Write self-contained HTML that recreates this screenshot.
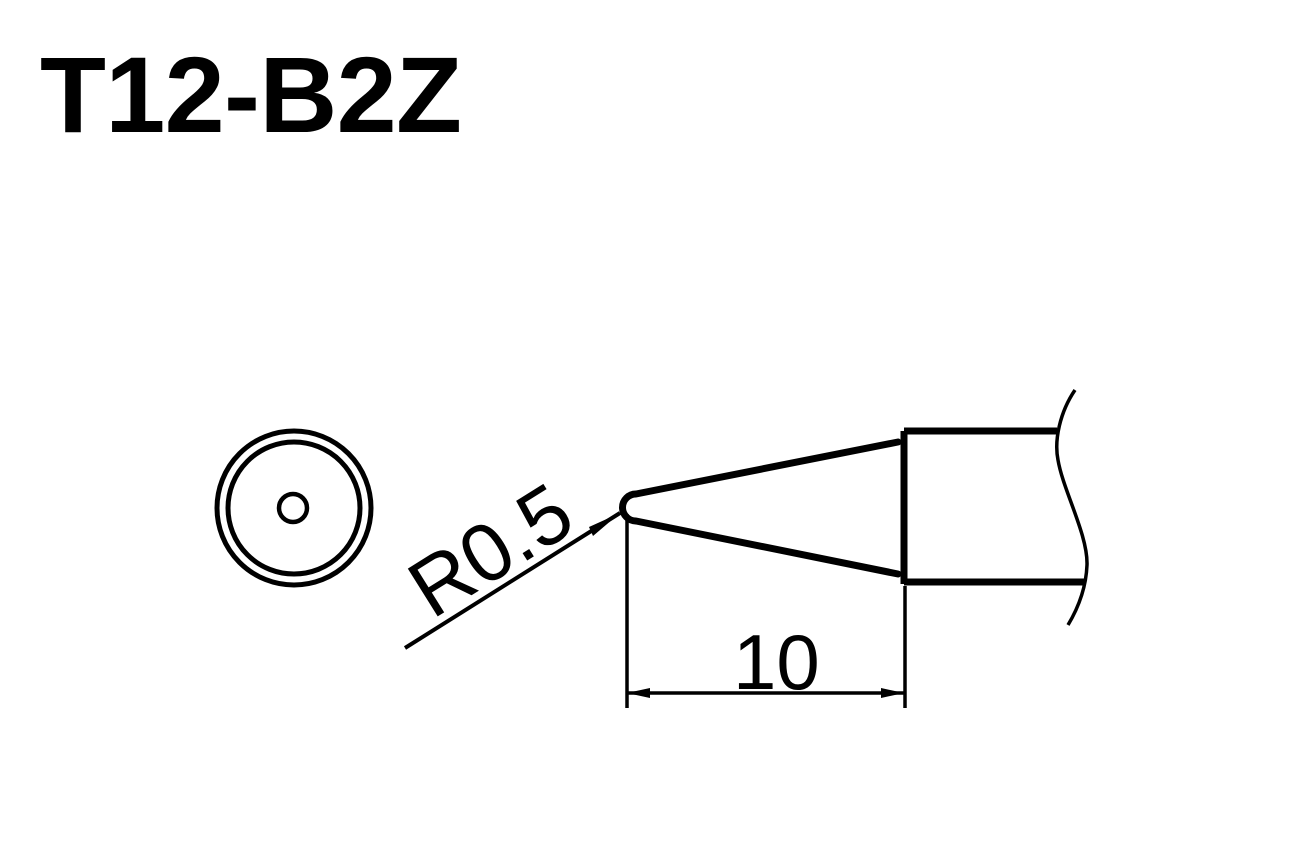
<!DOCTYPE html>
<html><head><meta charset="utf-8"><style>
html,body{margin:0;padding:0;background:#fff;}
svg{display:block}
</style></head><body>
<svg width="1305" height="858" viewBox="0 0 1305 858" xmlns="http://www.w3.org/2000/svg">
<rect width="1305" height="858" fill="#fff"/>
<text x="40" y="132" font-family="Liberation Sans, Arial, sans-serif" font-weight="bold" font-size="108" textLength="422" lengthAdjust="spacing" fill="#000">T12-B2Z</text>
<g fill="none" stroke="#000">
<circle cx="294" cy="508" r="77" stroke-width="5"/>
<circle cx="294" cy="508" r="66" stroke-width="5"/>
<circle cx="293" cy="508" r="14" stroke-width="4.5"/>
<line x1="405" y1="648" x2="620" y2="513" stroke-width="4"/>
<path d="M636,494 L898,442 M636,521 L898,574" stroke-width="7" stroke-linecap="round"/>
<path d="M636,494 A13.5,13.5 0 0 0 636,521" stroke-width="7"/>
<path d="M904,431 L904,584 M904,431 L1057,431 M904,582 L1086,582" stroke-width="7"/>
<path d="M627,514 L627,708 M905,586 L905,708 M627,693 L904,693" stroke-width="3.5"/>
<path d="M1075,390 C1060,412 1054,440 1058,460 C1063,490 1088,535 1087,565 C1086,590 1077,610 1068,625" stroke-width="3.5"/>
</g>
<polygon points="620,513 593,536 589,527" fill="#000"/>
<polygon points="627,693 650,688 650,698" fill="#000"/>
<polygon points="904,693 881,688 881,698" fill="#000"/>
<text x="0" y="0" transform="translate(432,620) rotate(-32)" font-family="Liberation Sans, Arial, sans-serif" font-size="82" fill="#000">R0.5</text>
<text x="733" y="689" font-family="Liberation Sans, Arial, sans-serif" font-size="78" fill="#000">10</text>
</svg>
</body></html>
